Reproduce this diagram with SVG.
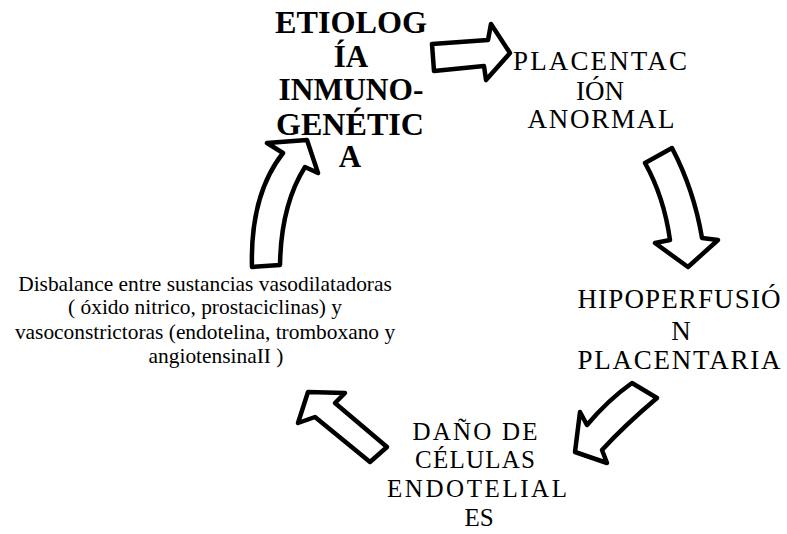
<svg xmlns="http://www.w3.org/2000/svg" width="787" height="534" viewBox="0 0 787 534">
<style>
text{font-family:'Liberation Serif','DejaVu Serif',serif;fill:#000;text-anchor:middle}
.b{font-weight:bold;font-size:31px}
.n{font-size:27px}
.d{font-size:25px}
.s{font-size:21.4px}
.arr{fill:#fff;stroke:#000;stroke-width:4.5;stroke-linejoin:round}
</style>
<rect width="787" height="534" fill="#fff"/>
<g id="connectors">
<path class="arr" d="M432,44 L488,40 L491,24 L510,53 L486,80 L484,66 L434,71 Z"/>
<path class="arr" d="M645,163 L672,148 Q694,190 702,238 L718,240 L688,267 L655,243 L670,240 Q664,197 645,163 Z"/>
<path class="arr" d="M632,383 L657,398 Q625,425 602,450 L607,463 L575,452 L580,412 L587,425 Q608,400 632,383 Z"/>
<path class="arr" d="M308,392 L345,393 L335,403 L387,447 L370,462 L315,417 L298,423 Z"/>
<path class="arr" d="M252,267 Q250,195 283,153 L267,143 L307,140 L318,173 L305,167 Q281,205 280,265 Z"/>
</g>
<g id="etiologia">
<text class="b" x="351" y="33" textLength="152" lengthAdjust="spacingAndGlyphs">ETIOLOG</text>
<text class="b" x="351" y="67">ÍA</text>
<text class="b" x="351" y="100" textLength="145" lengthAdjust="spacingAndGlyphs">INMUNO-</text>
<text class="b" x="350" y="135" textLength="148" lengthAdjust="spacingAndGlyphs">GENÉTIC</text>
<text class="b" x="350" y="167">A</text>
</g>
<g id="placentacion">
<text class="n" x="600" y="70" textLength="174">PLACENTAC</text>
<text class="n" x="600" y="100">IÓN</text>
<text class="n" x="601" y="128" textLength="147">ANORMAL</text>
</g>
<g id="hipoperfusion">
<text class="n" x="679" y="308" textLength="203">HIPOPERFUSIÓ</text>
<text class="n" x="681" y="340">N</text>
<text class="n" x="679" y="369" textLength="203">PLACENTARIA</text>
</g>
<g id="dano">
<text class="d" x="475" y="440" textLength="125">DAÑO DE</text>
<text class="d" x="475" y="468" textLength="120">CÉLULAS</text>
<text class="d" x="477" y="497" textLength="180">ENDOTELIAL</text>
<text class="d" x="479" y="526">ES</text>
</g>
<g id="disbalance">
<text class="s" x="205" y="291">Disbalance entre sustancias vasodilatadoras</text>
<text class="s" x="205" y="314">( óxido nitrico, prostaciclinas) y</text>
<text class="s" x="205" y="339">vasoconstrictoras (endotelina, tromboxano y</text>
<text class="s" x="216" y="363">angiotensinaII )</text>
</g>
</svg>
